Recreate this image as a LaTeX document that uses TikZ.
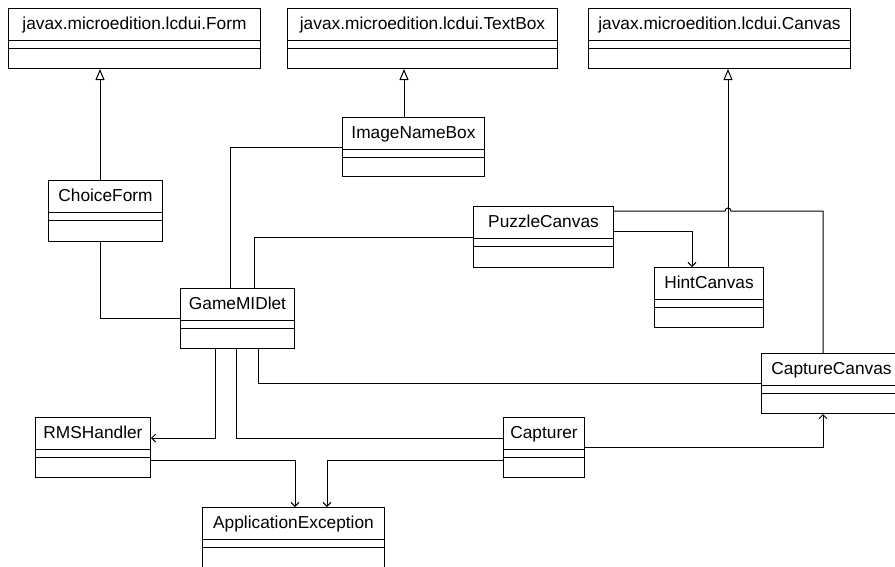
\documentclass[tikz,border=0pt]{standalone}
\usepackage{fontspec}
\setmainfont{Liberation Sans}
\usetikzlibrary{arrows.meta,calc}
\tikzset{
  clsbox/.style={draw, line width=1pt, rectangle, inner sep=0pt, anchor=north west, fill=white},
  clsname/.style={anchor=base, inner sep=0pt, font=\fontsize{17.3}{20}\selectfont},
  conn/.style={line width=1pt},
  inh/.style={conn, -{Triangle[open, length=11pt, width=9pt, fill=white]}},
  nav/.style={conn, -{Straight Barb[length=4pt, width=8pt]}},
}
\newcommand\umlbox[6]{%
  \node[clsbox, minimum width=#4, minimum height=#5] (#1) at (#2,#3) {};
  \node[clsname] (#1-t) at ([yshift=-21.5pt]#1.north) {#6};
  \draw[line width=1pt] ([yshift=-32pt]#1.north west) -- ([yshift=-32pt]#1.north east);
  \draw[line width=1pt] ([yshift=-40.5pt]#1.north west) -- ([yshift=-40.5pt]#1.north east);
}
\begin{document}
\begin{tikzpicture}[x=1pt, y=-1pt]
\useasboundingbox (0,0) rectangle (895,566);
\clip (0,0) rectangle (895,566);
\umlbox{form}{8}{8}{252}{60}{javax.microedition.lcdui.Form}
\umlbox{textbox}{287}{8}{270}{60}{javax.microedition.lcdui.TextBox}
\umlbox{canvas}{588}{8}{262}{60}{javax.microedition.lcdui.Canvas}
\umlbox{imgbox}{342}{117}{142}{59}{ImageNameBox}
\umlbox{choice}{48}{180}{114}{61}{ChoiceForm}
\umlbox{puzzle}{473}{206}{140}{61}{PuzzleCanvas}
\umlbox{hint}{654}{267}{109}{60}{HintCanvas}
\umlbox{game}{180}{288}{114}{60}{GameMIDlet}
\umlbox{capcanvas}{761}{353}{140}{60}{CaptureCanvas}
\umlbox{rms}{35}{417}{115}{60}{RMSHandler}
\umlbox{capturer}{503}{417}{81}{60}{Capturer}
\umlbox{appex}{202}{507}{182}{64}{ApplicationException}

% generalizations
\draw[inh] (100,0 |- choice.north) -- (100,0 |- form.south);
\draw[inh] (404,0 |- imgbox.north) -- (404,0 |- textbox.south);
\draw[inh] (728,0 |- hint.north) -- (728,0 |- canvas.south);

% associations
\draw[conn] (100,0 |- choice.south) |- (game.west);
\draw[conn] (imgbox.west) -| (230,0 |- game.north);
\draw[conn] (puzzle.west) -| (254,0 |- game.north);
\draw[nav] (puzzle.east |- 0,231) -| (692,0 |- hint.north);
\draw[conn] (puzzle.east |- 0,211) -- (725,211) .. controls (725,207) and (731,207) .. (731,211) -| (823,0 |- capcanvas.north);
\draw[conn] (258,0 |- game.south) |- (capcanvas.west);
\draw[nav] (215,0 |- game.south) |- (rms.east |- 0,438);
\draw[conn] (236,0 |- game.south) |- (capturer.west |- 0,438);
\draw[nav] (capturer.east |- 0,447) -| (823,0 |- capcanvas.south);
\draw[nav] (rms.east |- 0,460) -| (295,0 |- appex.north);
\draw[nav] (capturer.west |- 0,460) -| (327,0 |- appex.north);
\end{tikzpicture}
\end{document}
